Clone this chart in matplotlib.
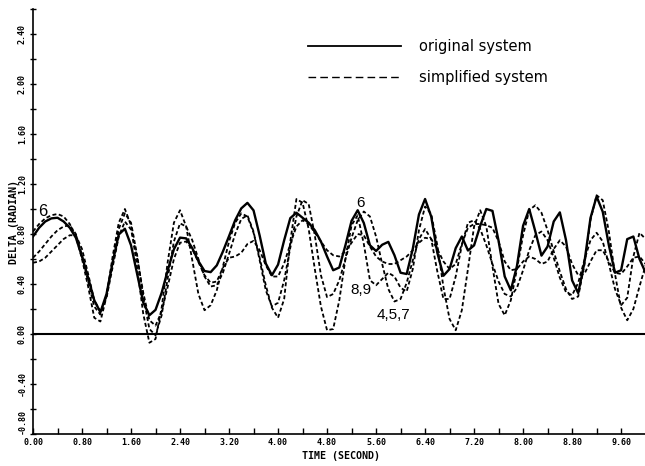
import matplotlib
matplotlib.use("Agg")
import matplotlib.pyplot as plt
import numpy as np
from matplotlib.lines import Line2D

# ---------------- data ----------------
time_s = np.round(np.arange(0, 101) * 0.1, 1)

original = [0.78, 0.85, 0.90, 0.925, 0.93, 0.90, 0.85, 0.77, 0.62, 0.45,
            0.27, 0.174, 0.32, 0.574, 0.796, 0.842, 0.71, 0.48, 0.252, 0.15,
            0.193, 0.33, 0.51, 0.678, 0.771, 0.765, 0.687, 0.583, 0.504, 0.495,
            0.549, 0.66, 0.783, 0.91, 1.005, 1.049, 0.989, 0.787, 0.564, 0.47,
            0.555, 0.75, 0.927, 0.97, 0.93, 0.89, 0.83, 0.74, 0.62, 0.51,
            0.532, 0.71, 0.905, 0.99, 0.888, 0.71, 0.664, 0.714, 0.737, 0.63,
            0.49, 0.48, 0.683, 0.956, 1.08, 0.94, 0.65, 0.466, 0.52, 0.687,
            0.78, 0.668, 0.709, 0.865, 1.0, 0.985, 0.745, 0.46, 0.35, 0.545,
            0.866, 1.0, 0.82, 0.627, 0.70, 0.90, 0.973, 0.752, 0.429, 0.327,
            0.57, 0.928, 1.10, 0.978, 0.71, 0.49, 0.51, 0.759, 0.78, 0.60,
            0.49]

simplified_a = [0.82, 0.88, 0.925, 0.95, 0.96, 0.94, 0.88, 0.78, 0.60, 0.38,
                0.13, 0.10, 0.30, 0.62, 0.89, 1.00, 0.87, 0.53, 0.16, -0.07,
                -0.04, 0.21, 0.58, 0.89, 0.99, 0.86, 0.59, 0.32, 0.19, 0.23,
                0.35, 0.54, 0.74, 0.89, 0.965, 0.94, 0.81, 0.61, 0.39, 0.21,
                0.13, 0.28, 0.74, 1.08, 1.05, 0.84, 0.52, 0.22, 0.03, 0.04,
                0.27, 0.60, 0.87, 0.95, 0.72, 0.43, 0.39, 0.44, 0.49, 0.46,
                0.37, 0.34, 0.52, 0.83, 1.02, 0.96, 0.71, 0.375, 0.12, 0.03,
                0.19, 0.52, 0.86, 0.99, 0.86, 0.54, 0.24, 0.15, 0.27, 0.52,
                0.79, 0.99, 1.03, 0.97, 0.83, 0.66, 0.50, 0.36, 0.28, 0.30,
                0.55, 0.91, 1.11, 1.07, 0.82, 0.48, 0.21, 0.11, 0.20, 0.38,
                0.55]

simplified_b = [0.61, 0.66, 0.72, 0.78, 0.83, 0.86, 0.87, 0.80, 0.63, 0.42,
                0.22, 0.155, 0.31, 0.58, 0.84, 0.966, 0.89, 0.63, 0.30, 0.04,
                -0.01, 0.15, 0.45, 0.74, 0.885, 0.86, 0.75, 0.60, 0.46, 0.38,
                0.39, 0.49, 0.64, 0.80, 0.92, 0.95, 0.82, 0.59, 0.35, 0.22,
                0.25, 0.43, 0.69, 0.94, 1.07, 1.04, 0.79, 0.47, 0.295, 0.32,
                0.43, 0.60, 0.77, 0.91, 0.98, 0.94, 0.78, 0.56, 0.36, 0.26,
                0.28, 0.41, 0.59, 0.76, 0.84, 0.76, 0.50, 0.28, 0.28, 0.46,
                0.71, 0.89, 0.91, 0.84, 0.71, 0.56, 0.42, 0.32, 0.30, 0.37,
                0.51, 0.67, 0.79, 0.82, 0.75, 0.61, 0.45, 0.335, 0.31, 0.41,
                0.59, 0.75, 0.81, 0.74, 0.56, 0.36, 0.23, 0.29, 0.62, 0.81,
                0.76]

simplified_c = [0.57, 0.58, 0.61, 0.66, 0.71, 0.76, 0.79, 0.79, 0.68, 0.48,
                0.27, 0.18, 0.29, 0.535, 0.78, 0.90, 0.835, 0.61, 0.33, 0.11,
                0.067, 0.18, 0.38, 0.60, 0.73, 0.74, 0.68, 0.575, 0.47, 0.41,
                0.42, 0.53, 0.61, 0.62, 0.65, 0.72, 0.745, 0.67, 0.55, 0.46,
                0.46, 0.565, 0.72, 0.86, 0.91, 0.88, 0.81, 0.74, 0.67, 0.63,
                0.62, 0.66, 0.73, 0.80, 0.79, 0.70, 0.62, 0.58, 0.56, 0.56,
                0.59, 0.62, 0.67, 0.73, 0.77, 0.76, 0.68, 0.58, 0.52, 0.56,
                0.72, 0.85, 0.88, 0.88, 0.87, 0.85, 0.74, 0.58, 0.51, 0.52,
                0.58, 0.62, 0.60, 0.56, 0.58, 0.68, 0.75, 0.70, 0.56, 0.47,
                0.48, 0.58, 0.67, 0.67, 0.58, 0.49, 0.48, 0.54, 0.61, 0.62,
                0.56]

x_label_ticks = [0.0, 0.8, 1.6, 2.4, 3.2, 4.0, 4.8, 5.6, 6.4, 7.2, 8.0, 8.8, 9.6]
x_minor_ticks = [0.4, 1.2, 2.0, 2.8, 3.6, 4.4, 5.2, 6.0, 6.8, 7.6, 8.4, 9.2]
y_label_ticks = [-0.8, -0.4, 0.0, 0.4, 0.8, 1.2, 1.6, 2.0, 2.4]
y_minor_ticks = [-0.6, -0.2, 0.2, 0.6, 1.0, 1.4, 1.8, 2.2, 2.6]

annotations = [("6", 0.16, 0.98, 12), ("6", 5.34, 1.05, 11),
               ("8,9", 5.36, 0.35, 11), ("4,5,7", 5.88, 0.15, 11)]

# ---------------- figure ----------------
fig = plt.figure(figsize=(6.45, 4.66), dpi=100)
ax = fig.add_axes([33 / 645, 32 / 466, 612 / 645, 425 / 466])
ax.set_xlim(0, 9.99)
ax.set_ylim(-0.8, 2.6)

ax.plot(time_s, original, color="black", lw=1.7, solid_joinstyle="round")
for series in (simplified_a, simplified_b, simplified_c):
    ax.plot(time_s, series, color="black", lw=1.3, ls=(0, (2.2, 1.4)))

ax.axhline(0.0, color="black", lw=1.5)

for side in ("top", "right"):
    ax.spines[side].set_visible(False)
ax.spines["left"].set_linewidth(1.2)
ax.spines["bottom"].set_linewidth(1.2)

mono = dict(family="DejaVu Sans Mono", weight="bold")
ax.set_xticks(x_label_ticks)
ax.set_xticks(x_minor_ticks, minor=True)
ax.set_xticklabels([f"{v:.2f}" for v in x_label_ticks], fontsize=6, **mono)
ax.set_yticks(y_label_ticks)
ax.set_yticks(y_minor_ticks, minor=True)
ylabels = ax.set_yticklabels([f"{v:.2f}" for v in y_label_ticks], fontsize=6,
                             rotation=90, va="center", **mono)
ylabels[0].set_va("bottom")
ax.tick_params(axis="x", which="both", direction="in", length=4, width=1, pad=3)
ax.tick_params(axis="y", which="both", direction="inout", length=5, width=1, pad=2)

fig.text(14 / 645, 1 - 222 / 466, "DELTA (RADIAN)", rotation=90,
         ha="center", va="center", fontsize=7.2, **mono)
fig.text(341 / 645, 1 - 456 / 466, "TIME (SECOND)",
         ha="center", va="center", fontsize=7.2, **mono)

for txt, tx, ty, fs in annotations:
    ax.text(tx, ty, txt, ha="center", va="center", fontsize=fs,
            family="Liberation Sans")

handles = [Line2D([], [], color="black", lw=1.3),
           Line2D([], [], color="black", lw=1.0, ls=(0, (5.5, 3)))]
ax.legend(handles, ["original system", "simplified system"],
          loc="upper left", bbox_to_anchor=(0.449, 0.929), frameon=False,
          fontsize=10.5, handlelength=6.4, handletextpad=1.2,
          labelspacing=1.1, borderpad=0, borderaxespad=0)

fig.savefig("out.png", dpi=100)
